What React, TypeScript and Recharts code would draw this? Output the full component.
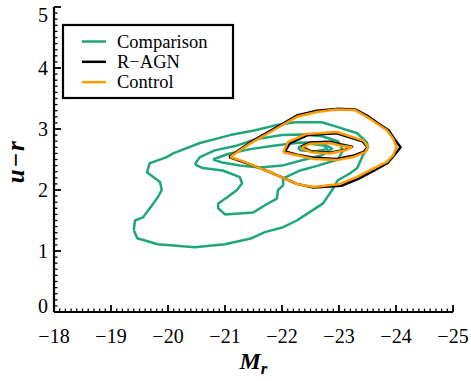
import React from 'react';
import { ComposedChart, Line, XAxis, YAxis, Legend } from 'recharts';

// ---- styling constants ----
const GREEN = '#1fa67a';
const BLACK = '#000000';
const ORANGE = '#ff9a00';
const FONT = 'Liberation Serif, Times New Roman, Times, serif';

// ---- axis tick labels ----
const X_MAJOR = [-18, -19, -20, -21, -22, -23, -24, -25];
const Y_MAJOR = [0, 1, 2, 3, 4, 5];

// ---- series names ----
const SERIES_NAMES = ['Comparison', 'R\u2212AGN', 'Control'];

// ---- contour data (M_r, u-r) ----
const comparisonOuter = [
  { x: -19.40, y: 1.34 }, { x: -19.42, y: 1.50 }, { x: -19.56, y: 1.55 }, { x: -19.72, y: 1.75 },
  { x: -19.82, y: 1.88 }, { x: -19.89, y: 2.00 }, { x: -19.86, y: 2.13 }, { x: -19.63, y: 2.29 },
  { x: -19.68, y: 2.44 }, { x: -19.98, y: 2.54 }, { x: -20.09, y: 2.60 }, { x: -20.56, y: 2.77 },
  { x: -21.09, y: 2.90 }, { x: -21.53, y: 2.98 }, { x: -21.88, y: 3.06 }, { x: -22.23, y: 3.11 },
  { x: -22.70, y: 3.11 }, { x: -22.98, y: 3.03 }, { x: -23.32, y: 2.93 }, { x: -23.49, y: 2.78 },
  { x: -23.51, y: 2.70 }, { x: -23.42, y: 2.57 }, { x: -23.32, y: 2.36 }, { x: -23.19, y: 2.27 },
  { x: -22.98, y: 2.16 }, { x: -22.88, y: 2.00 }, { x: -22.72, y: 1.78 }, { x: -22.54, y: 1.67 },
  { x: -22.26, y: 1.50 }, { x: -22.02, y: 1.39 }, { x: -21.70, y: 1.31 }, { x: -21.47, y: 1.21 },
  { x: -21.00, y: 1.11 }, { x: -20.47, y: 1.06 }, { x: -19.82, y: 1.11 }, { x: -19.46, y: 1.21 },
  { x: -19.40, y: 1.34 },
];
const comparisonMiddle = [
  { x: -20.47, y: 2.42 }, { x: -20.56, y: 2.54 }, { x: -20.82, y: 2.65 }, { x: -21.18, y: 2.72 },
  { x: -21.53, y: 2.83 }, { x: -22.00, y: 2.90 }, { x: -22.35, y: 2.91 }, { x: -22.70, y: 2.88 },
  { x: -22.98, y: 2.80 }, { x: -23.07, y: 2.65 }, { x: -22.98, y: 2.50 }, { x: -22.63, y: 2.40 },
  { x: -22.32, y: 2.32 }, { x: -22.02, y: 2.19 }, { x: -22.02, y: 2.08 }, { x: -21.93, y: 2.00 },
  { x: -21.91, y: 1.86 }, { x: -21.70, y: 1.75 }, { x: -21.49, y: 1.63 }, { x: -21.00, y: 1.60 },
  { x: -20.88, y: 1.70 }, { x: -20.88, y: 1.78 }, { x: -21.04, y: 1.88 }, { x: -21.21, y: 2.00 },
  { x: -21.30, y: 2.11 }, { x: -21.26, y: 2.21 }, { x: -20.96, y: 2.32 }, { x: -20.61, y: 2.36 },
  { x: -20.47, y: 2.42 },
];
const comparisonInner = [
  { x: -20.79, y: 2.50 }, { x: -21.05, y: 2.59 }, { x: -21.44, y: 2.67 }, { x: -21.88, y: 2.73 },
  { x: -22.32, y: 2.78 }, { x: -22.70, y: 2.77 }, { x: -22.88, y: 2.68 }, { x: -22.70, y: 2.57 },
  { x: -22.40, y: 2.50 }, { x: -22.00, y: 2.40 }, { x: -21.61, y: 2.37 }, { x: -21.26, y: 2.40 },
  { x: -20.95, y: 2.45 }, { x: -20.79, y: 2.50 },
];
const comparisonCore = [
  { x: -22.28, y: 2.70 }, { x: -22.49, y: 2.76 }, { x: -22.74, y: 2.73 }, { x: -22.79, y: 2.67 },
  { x: -22.58, y: 2.63 }, { x: -22.32, y: 2.65 }, { x: -22.28, y: 2.70 },
];

const ragnOuter = [
  { x: -21.07, y: 2.54 }, { x: -21.44, y: 2.78 }, { x: -21.85, y: 3.00 }, { x: -22.26, y: 3.22 },
  { x: -22.61, y: 3.30 }, { x: -22.96, y: 3.33 }, { x: -23.29, y: 3.32 }, { x: -23.51, y: 3.21 },
  { x: -23.69, y: 3.09 }, { x: -23.87, y: 2.98 }, { x: -23.97, y: 2.84 }, { x: -24.08, y: 2.70 },
  { x: -23.97, y: 2.57 }, { x: -23.86, y: 2.45 }, { x: -23.62, y: 2.32 }, { x: -23.33, y: 2.18 },
  { x: -23.04, y: 2.07 }, { x: -22.55, y: 2.04 }, { x: -22.26, y: 2.10 }, { x: -21.85, y: 2.27 },
  { x: -21.56, y: 2.38 }, { x: -21.26, y: 2.48 }, { x: -21.07, y: 2.54 },
];
const ragnMiddle = [
  { x: -22.05, y: 2.63 }, { x: -22.14, y: 2.77 }, { x: -22.45, y: 2.90 }, { x: -22.96, y: 2.93 },
  { x: -23.41, y: 2.80 }, { x: -23.50, y: 2.70 }, { x: -23.44, y: 2.63 }, { x: -23.24, y: 2.56 },
  { x: -22.96, y: 2.51 }, { x: -22.55, y: 2.53 }, { x: -22.27, y: 2.58 }, { x: -22.05, y: 2.63 },
];
const ragnInner = [
  { x: -22.34, y: 2.71 }, { x: -22.49, y: 2.78 }, { x: -22.84, y: 2.79 }, { x: -23.02, y: 2.75 },
  { x: -23.23, y: 2.71 }, { x: -23.11, y: 2.66 }, { x: -22.84, y: 2.61 }, { x: -22.52, y: 2.63 },
  { x: -22.34, y: 2.71 },
];

const controlOuter = [
  { x: -21.09, y: 2.54 }, { x: -21.44, y: 2.76 }, { x: -21.85, y: 2.98 }, { x: -22.26, y: 3.20 },
  { x: -22.61, y: 3.28 }, { x: -22.96, y: 3.32 }, { x: -23.28, y: 3.31 }, { x: -23.49, y: 3.20 },
  { x: -23.66, y: 3.09 }, { x: -23.84, y: 2.98 }, { x: -23.95, y: 2.84 }, { x: -24.01, y: 2.70 },
  { x: -23.95, y: 2.57 }, { x: -23.84, y: 2.46 }, { x: -23.60, y: 2.35 }, { x: -23.31, y: 2.21 },
  { x: -23.02, y: 2.10 }, { x: -22.55, y: 2.05 }, { x: -22.26, y: 2.10 }, { x: -21.85, y: 2.27 },
  { x: -21.56, y: 2.38 }, { x: -21.26, y: 2.49 }, { x: -21.09, y: 2.54 },
];
const controlMiddle = [
  { x: -22.02, y: 2.62 }, { x: -22.11, y: 2.79 }, { x: -22.43, y: 2.92 }, { x: -22.96, y: 2.95 },
  { x: -23.43, y: 2.81 }, { x: -23.51, y: 2.70 }, { x: -23.46, y: 2.62 }, { x: -23.25, y: 2.54 },
  { x: -22.96, y: 2.49 }, { x: -22.55, y: 2.51 }, { x: -22.26, y: 2.57 }, { x: -22.02, y: 2.62 },
];
const controlInner = [
  { x: -22.35, y: 2.70 }, { x: -22.49, y: 2.76 }, { x: -22.84, y: 2.77 }, { x: -23.02, y: 2.73 },
  { x: -23.22, y: 2.70 }, { x: -23.11, y: 2.65 }, { x: -22.84, y: 2.60 }, { x: -22.52, y: 2.62 },
  { x: -22.35, y: 2.68 }, { x: -22.35, y: 2.70 },
];

// ---- helpers ----
const fmt = (v: number) => (v < 0 ? '\u2212' + Math.abs(v) : String(v));

const withMinor = (majors: number[]) => {
  const lo = Math.min(...majors);
  const hi = Math.max(...majors);
  const out: number[] = [];
  for (let i = 0; i <= Math.round((hi - lo) * 10); i++) out.push(Math.round((lo + i / 10) * 10) / 10);
  return out;
};
const X_TICKS = withMinor(X_MAJOR);
const Y_TICKS = withMinor(Y_MAJOR);

const isMajor = (majors: number[], v: number) => majors.some((m) => Math.abs(m - v) < 1e-6);

const makeTick = (side: 'bottom' | 'top' | 'left' | 'right', majors: number[], showLabel: boolean) =>
  (props: any) => {
    const { x, y, payload } = props;
    const v = payload.value;
    const major = isMajor(majors, v);
    const len = major ? 7 : 3.5;
    const sw = major ? 1.8 : 1.3;
    let x2 = x;
    let y2 = y;
    if (side === 'bottom') y2 = y - len;
    if (side === 'top') y2 = y + len;
    if (side === 'left') x2 = x + len;
    if (side === 'right') x2 = x - len;
    let label = null;
    if (showLabel && major) {
      if (side === 'bottom') {
        label = (
          <text x={x} y={y + 31} textAnchor="middle" fontFamily={FONT} fontSize={20} fill="#000">
            {fmt(v)}
          </text>
        );
      } else if (side === 'left') {
        const hi = Math.max(...majors);
        const lo = Math.min(...majors);
        const off = v === hi ? 15 : v === lo ? 0.5 : 7;
        label = (
          <text x={x - 6} y={y + off} textAnchor="end" fontFamily={FONT} fontSize={20} fill="#000">
            {fmt(v)}
          </text>
        );
      }
    }
    return (
      <g>
        <line x1={x} y1={y} x2={x2} y2={y2} stroke="#000" strokeWidth={sw} />
        {label}
      </g>
    );
  };

const XTitle = (props: any) => {
  const vb = props.viewBox || {};
  return (
    <text
      x={vb.x + vb.width / 2}
      y={vb.y + 57}
      textAnchor="middle"
      fontFamily={FONT}
      fontWeight="bold"
      fontStyle="italic"
      fontSize={24}
      fill="#000"
    >
      <tspan>M</tspan>
      <tspan fontSize={17} dy={5}>r</tspan>
    </text>
  );
};

const YTitle = (props: any) => {
  const vb = props.viewBox || {};
  const cx = vb.x + 24;
  const cy = vb.y + vb.height / 2 + 2;
  return (
    <text
      x={cx}
      y={cy}
      transform={`rotate(-90, ${cx}, ${cy})`}
      textAnchor="middle"
      fontFamily={FONT}
      fontWeight="bold"
      fontStyle="italic"
      fontSize={25}
      letterSpacing={1.5}
      fill="#000"
    >
      {'u\u2212r'}
    </text>
  );
};

const LegendBox = (props: any) => {
  const items = (props.payload || [])
    .filter((p: any) => p.type !== 'none' && SERIES_NAMES.indexOf(p.value) >= 0)
    .sort((a: any, b: any) => SERIES_NAMES.indexOf(a.value) - SERIES_NAMES.indexOf(b.value));
  return (
    <svg width={174} height={77} style={{ display: 'block' }}>
      <rect x={2} y={2} width={170} height={73} fill="#fff" stroke="#000" strokeWidth={2.2} />
      {items.map((it: any, i: number) => {
        const cy = 18.5 + i * 20.3;
        return (
          <g key={i}>
            <line x1={21} x2={45} y1={cy} y2={cy} stroke={it.color} strokeWidth={2.5} />
            <text x={56} y={cy + 6} fontFamily={FONT} fontSize={18.5} fill="#000">
              {it.value}
            </text>
          </g>
        );
      })}
    </svg>
  );
};

const lineProps = {
  xAxisId: 'b',
  yAxisId: 'l',
  dataKey: 'y',
  dot: false,
  activeDot: false,
  isAnimationActive: false,
  strokeWidth: 2.5,
  strokeLinejoin: 'round' as const,
  type: 'linear' as const,
};

export default function App() {
  const axisLine = { stroke: '#000', strokeWidth: 2.2 };
  return (
    <div style={{ position: 'absolute', left: 0, top: 0, background: '#fff' }}>
      <ComposedChart width={471} height={381} margin={{ top: 7, right: 18, bottom: 0, left: 0 }}>
        <XAxis
          xAxisId="b"
          dataKey="x"
          type="number"
          domain={[-25, -18]}
          reversed
          allowDataOverflow
          ticks={X_TICKS}
          interval={0}
          tickSize={0}
          tickMargin={0}
          height={69}
          axisLine={axisLine}
          tickLine={false}
          tick={makeTick('bottom', X_MAJOR, true)}
          label={<XTitle />}
        />
        <XAxis
          xAxisId="t"
          orientation="top"
          dataKey="x"
          type="number"
          domain={[-25, -18]}
          reversed
          allowDataOverflow
          ticks={X_TICKS}
          interval={0}
          tickSize={0}
          tickMargin={0}
          height={0}
          axisLine={axisLine}
          tickLine={false}
          tick={makeTick('top', X_MAJOR, false)}
        />
        <YAxis
          yAxisId="l"
          type="number"
          domain={[0, 5]}
          allowDataOverflow
          ticks={Y_TICKS}
          interval={0}
          tickSize={0}
          tickMargin={0}
          width={54}
          axisLine={axisLine}
          tickLine={false}
          tick={makeTick('left', Y_MAJOR, true)}
          label={<YTitle />}
        />
        <YAxis
          yAxisId="r"
          orientation="right"
          type="number"
          domain={[0, 5]}
          allowDataOverflow
          ticks={Y_TICKS}
          interval={0}
          tickSize={0}
          tickMargin={0}
          width={0}
          axisLine={axisLine}
          tickLine={false}
          tick={makeTick('right', Y_MAJOR, false)}
        />
        <Legend
          layout="vertical"
          align="center"
          verticalAlign="middle"
          content={<LegendBox />}
          wrapperStyle={{ left: 61, top: 23, width: 174, height: 77 }}
        />
        <Line {...lineProps} data={comparisonOuter} stroke={GREEN} name={SERIES_NAMES[0]} legendType="line" />
        <Line {...lineProps} data={comparisonMiddle} stroke={GREEN} name={SERIES_NAMES[0] + ' 2'} legendType="none" />
        <Line {...lineProps} data={comparisonInner} stroke={GREEN} name={SERIES_NAMES[0] + ' 3'} legendType="none" />
        <Line {...lineProps} data={comparisonCore} stroke={GREEN} name={SERIES_NAMES[0] + ' 4'} legendType="none" />
        <Line {...lineProps} data={ragnOuter} stroke={BLACK} name={SERIES_NAMES[1]} legendType="line" />
        <Line {...lineProps} data={ragnMiddle} stroke={BLACK} name={SERIES_NAMES[1] + ' 2'} legendType="none" />
        <Line {...lineProps} data={ragnInner} stroke={BLACK} name={SERIES_NAMES[1] + ' 3'} legendType="none" />
        <Line {...lineProps} data={controlOuter} stroke={ORANGE} name={SERIES_NAMES[2]} legendType="line" />
        <Line {...lineProps} data={controlMiddle} stroke={ORANGE} name={SERIES_NAMES[2] + ' 2'} legendType="none" />
        <Line {...lineProps} data={controlInner} stroke={ORANGE} name={SERIES_NAMES[2] + ' 3'} legendType="none" />
      </ComposedChart>
    </div>
  );
}
